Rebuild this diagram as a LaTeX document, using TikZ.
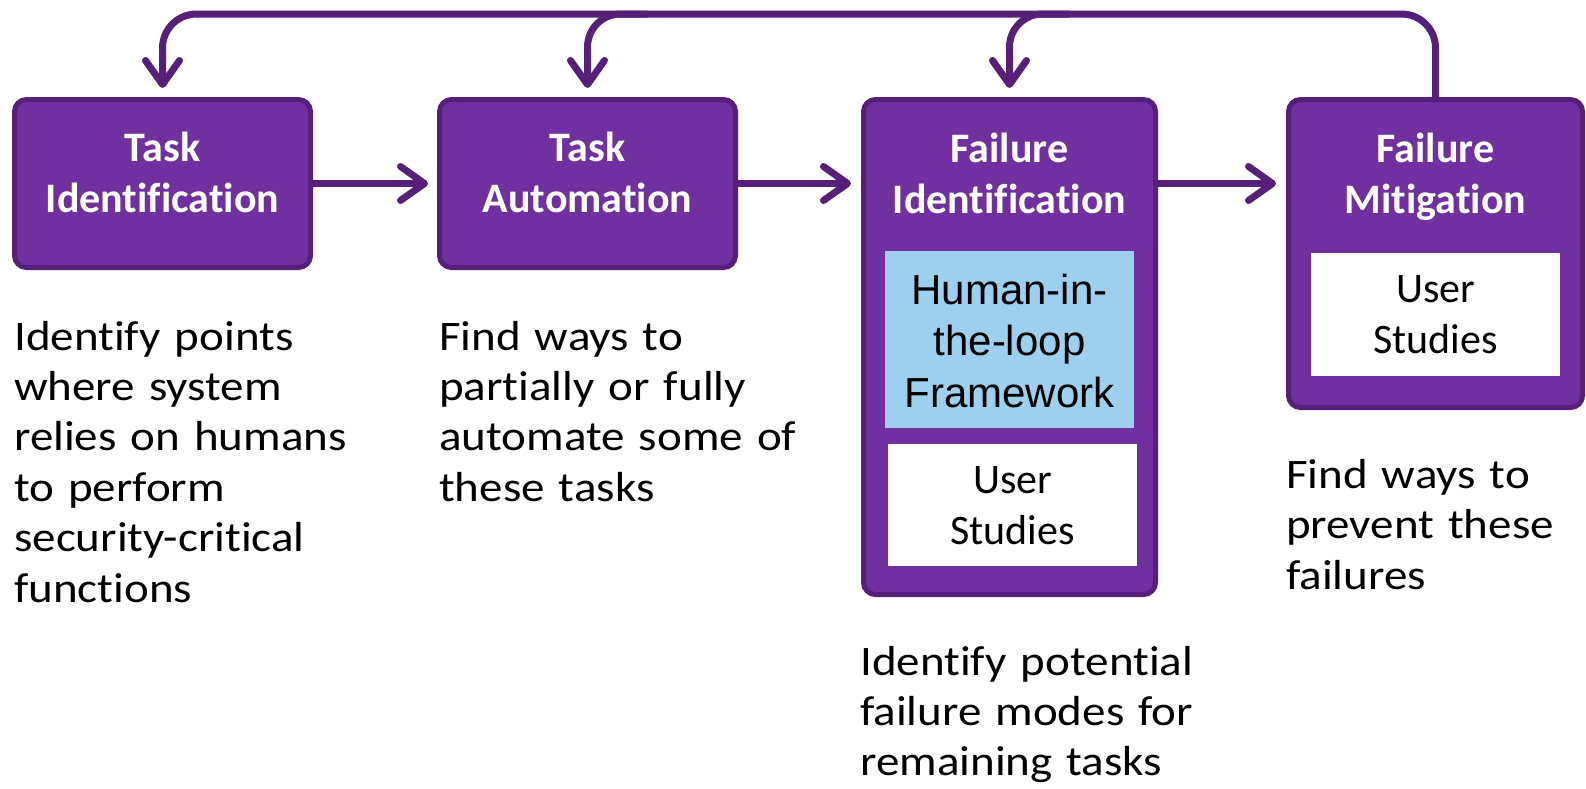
\documentclass[tikz,border=0pt]{standalone}
\usepackage{fontspec}
\setmainfont[Ligatures=NoCommon]{Carlito}
\newfontfamily\bodyfont[Ligatures=NoCommon, FakeStretch=1.12]{Carlito}
\newfontfamily\arialfont{Liberation Sans}
\usetikzlibrary{arrows.meta,calc}

\definecolor{boxfill}{HTML}{7030A0}
\definecolor{boxline}{HTML}{56207A}
\definecolor{hitlblue}{HTML}{9DCFEF}

\begin{document}
\begin{tikzpicture}[x=1pt,y=-1pt,
  stage/.style={draw=boxline, fill=boxfill, line width=5pt, rounded corners=12pt,
    minimum width=296pt, inner sep=0pt},
  inset/.style={fill=#1, draw=none, minimum width=249pt, inner sep=0pt},
  head/.style={anchor=base, text width=290pt, align=center, inner sep=0pt,
    text=white, font=\bfseries\fontsize{42}{51}\selectfont},
  insettext/.style={anchor=base, text width=249pt, align=center, inner sep=0pt,
    font=\fontsize{42}{51}\selectfont},
  desc/.style={anchor=base west, text width=420pt, align=left, inner sep=0pt,
    font=\bodyfont\fontsize{42}{50.4}\selectfont},
  flow/.style={draw=boxline, line width=7pt,
    -{Straight Barb[length=24pt, width=34pt, round]}},
]
\useasboundingbox (0,0) rectangle (1586,788);

% stage boxes
\node[stage, minimum height=168pt] (b1) at (162.5,183.5) {};
\node[stage, minimum height=168pt] (b2) at (587.5,183.5) {};
\node[stage, minimum height=495pt, minimum width=292pt] (b3) at (1009.5,347) {};
\node[stage, minimum height=308pt, minimum width=294pt] (b4) at (1435.5,253.5) {};

% stage titles
\node[head] (h1) at (162.5,161.5) {Task\\Identification};
\node[head] (h2) at (587.5,161.5) {Task\\Automation};
\node[head] (h3) at (1009.5,162) {Failure\\Identification};
\node[head] (h4) at (1435.5,162.5) {Failure\\Mitigation};

% boxes inside the stages
\node[inset=hitlblue, minimum height=177pt] (hitl) at (1009.5,339.5) {};
\node[insettext, font=\arialfont\fontsize{42}{51.5}\selectfont] (hitlt) at (1009.5,304) {Human-in-\\the-loop\\Framework};
\node[inset=white, minimum height=122pt] (us3) at (1012.5,505) {};
\node[insettext] (us3t) at (1012.5,493.5) {User\\Studies};
\node[inset=white, minimum height=123pt] (us4) at (1435.5,314.5) {};
\node[insettext] (us4t) at (1435.5,302) {User\\Studies};

% descriptions
\node[desc] (d1) at (14,350) {Identify points\\where system\\relies on humans\\to perform\\security-critical\\functions};
\node[desc] (d2) at (439,350) {Find ways to\\partially or fully\\automate some of\\these tasks};
\node[desc] (d3) at (860,675) {Identify potential\\failure modes for\\remaining tasks};
\node[desc, font=\bodyfont\fontsize{42}{50.8}\selectfont] (d4) at (1286,488) {Find ways to\\prevent these\\failures};

% forward arrows
\draw[flow, shorten >=9pt] (b1.east) -- (b2.west);
\draw[flow, shorten >=10pt] (b2.east) -- (b2.east -| b3.west);
\draw[flow, shorten >=10pt] (b2.east -| b3.east) -- (b2.east -| b4.west);

% feedback loop along the top
\coordinate (topy) at (0,14);
\draw[flow, rounded corners=34pt, shorten >=9pt]
  (b4.north) -- (b4.north |- topy) -- (b1.north |- topy) -- (b1.north);
\draw[flow, rounded corners=33pt, shorten >=9pt]
  ($(b2.north |- topy)+(60,0)$) -- (b2.north |- topy) -- (b2.north);
\draw[flow, rounded corners=33pt, shorten >=9pt]
  ($(b3.north |- topy)+(60,0)$) -- (b3.north |- topy) -- (b3.north);
\end{tikzpicture}
\end{document}
